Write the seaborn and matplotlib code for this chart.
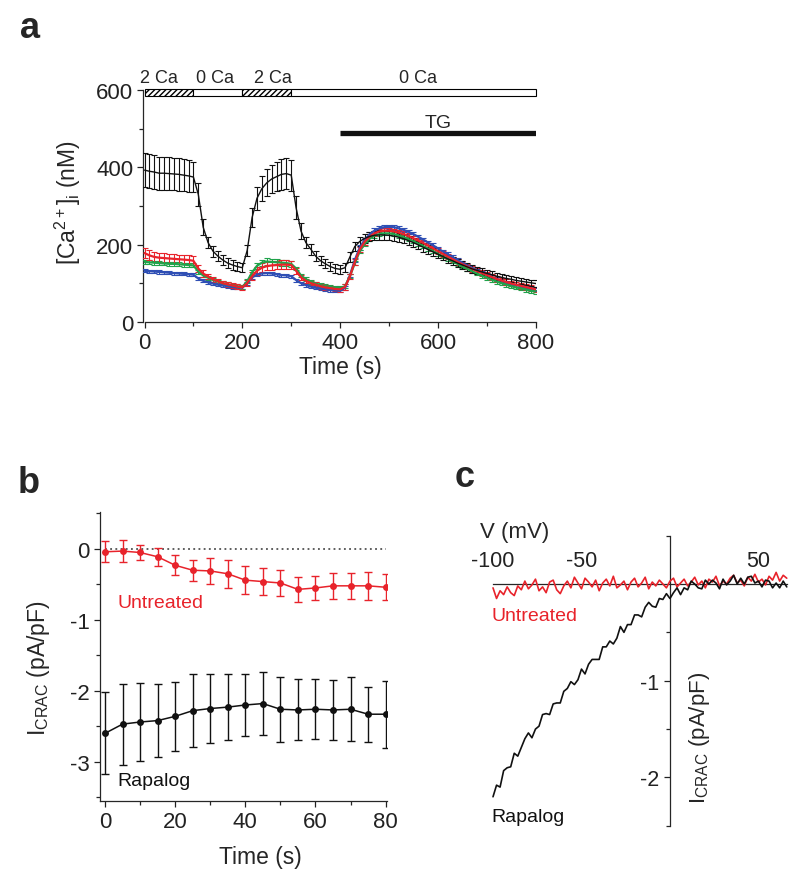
import numpy as np
import pandas as pd
import matplotlib
matplotlib.use("Agg")
import matplotlib.pyplot as plt
from matplotlib.ticker import FixedLocator
import seaborn as sns

# ---------------- DATA ----------------
# Panel a: [Ca2+]i (nM) vs time (s), sampled every 10 s
time_a = list(range(0, 801, 10))
black_mean = [393, 390, 388, 385, 385, 384, 383, 382, 380, 378, 375,
              330, 245, 205, 183, 170, 160, 152, 147, 143, 140,
              185, 270, 320, 345, 360, 370, 376, 382, 384, 380,
              295, 235, 205, 188, 170, 158, 150, 143, 138, 136,
              140, 168, 195, 208, 216, 221, 224, 225, 225, 224,
              222, 219, 215, 210, 205, 199, 193, 187, 181, 175,
              169, 163, 158, 152, 147, 142, 137, 133, 129, 125,
              122, 118, 115, 112, 110, 107, 105, 103, 101, 99]
black_err = [45, 44, 44, 43, 43, 43, 42, 42, 42, 41, 40,
             30, 20, 15, 14, 13, 12, 12, 12, 12, 12,
             15, 25, 30, 33, 35, 37, 38, 40, 40, 40,
             30, 20, 15, 14, 13, 12, 12, 12, 12, 12,
             12, 12, 12, 12, 12, 12, 12, 12, 12, 12,
             12, 12, 12, 12, 11, 11, 11, 11, 11, 11,
             10, 10, 10, 10, 10, 10, 10, 9, 9, 9,
             9, 9, 9, 8, 8, 8, 8, 8, 8, 8]
blue_mean = [132, 131, 130, 129, 128, 127, 126, 125, 124, 123, 122,
             112, 106, 102, 99, 96, 94, 92, 90, 89, 88,
             100, 115, 122, 125, 126, 125, 123, 121, 120, 118,
             108, 100, 95, 91, 88, 86, 84, 82, 81, 80,
             88, 120, 160, 192, 212, 226, 236, 242, 245, 246,
             245, 242, 238, 233, 227, 220, 213, 205, 198, 190,
             182, 175, 167, 160, 153, 146, 140, 133, 127, 122,
             116, 111, 106, 102, 98, 95, 92, 89, 86, 83]
blue_err = [4] * 41 + [5, 5, 6, 6, 6, 6, 6, 6, 6, 6,
                      6, 6, 6, 6, 6, 5, 5, 5, 5, 5,
                      5, 5, 5, 5, 4, 4, 4, 4, 4, 4,
                      4, 4, 4, 4, 4, 4, 4, 4, 4, 4]
green_mean = [155, 154, 153, 152, 151, 150, 150, 149, 148, 147, 146,
              130, 120, 114, 108, 104, 100, 97, 94, 92, 90,
              105, 128, 145, 153, 156, 155, 154, 153, 152, 150,
              138, 120, 110, 104, 99, 95, 92, 90, 88, 87,
              92, 118, 152, 182, 202, 215, 223, 227, 229, 229,
              227, 223, 219, 214, 208, 202, 196, 189, 183, 176,
              169, 163, 156, 150, 143, 137, 131, 125, 119, 114,
              109, 104, 100, 96, 92, 89, 86, 83, 80, 78]
green_err = [5] * 22 + [7, 8, 8, 8, 8, 8, 8, 8, 8] + [5] * 50
red_mean = [178, 172, 168, 166, 165, 164, 163, 162, 161, 160, 158,
            138, 125, 117, 110, 105, 100, 97, 94, 91, 89,
            100, 118, 132, 140, 144, 146, 147, 148, 148, 147,
            132, 115, 106, 100, 96, 92, 89, 87, 85, 84,
            90, 118, 155, 187, 207, 220, 229, 234, 236, 236,
            234, 231, 227, 222, 216, 210, 204, 197, 190, 183,
            176, 169, 162, 155, 149, 143, 137, 131, 126, 121,
            116, 111, 107, 103, 99, 96, 93, 90, 87, 84]
red_err = [13, 13, 12, 12, 12, 12, 12, 12, 12, 12, 12,
           9, 8, 7, 7, 6, 6, 6, 6, 6, 6,
           8, 10, 11, 11, 11, 11, 11, 11, 11, 11,
           8, 7, 6, 6, 6, 6, 6, 6, 6, 6] + [7] * 40

solution_start = [0, 100, 200, 300]
solution_end = [100, 200, 300, 800]
solution_label = ["2 Ca", "0 Ca", "2 Ca", "0 Ca"]
solution_hatched = [True, False, True, False]
tg_start, tg_end = 400, 800

# Panel b: I_CRAC (pA/pF) vs time (s)
time_b = [0, 5, 10, 15, 20, 25, 30, 35, 40, 45, 50, 55, 60, 65, 70, 75, 80]
untreated_mean = [-0.04, -0.03, -0.05, -0.11, -0.23, -0.30, -0.31, -0.35, -0.44,
                  -0.46, -0.48, -0.57, -0.55, -0.52, -0.52, -0.52, -0.54]
untreated_err = [0.15, 0.15, 0.11, 0.13, 0.14, 0.15, 0.18, 0.20, 0.20,
                 0.19, 0.19, 0.18, 0.17, 0.18, 0.18, 0.20, 0.18]
rapalog_mean = [-2.60, -2.47, -2.44, -2.42, -2.36, -2.28, -2.25, -2.23, -2.20,
                -2.18, -2.26, -2.27, -2.26, -2.27, -2.26, -2.33, -2.33]
rapalog_err = [0.58, 0.57, 0.55, 0.51, 0.49, 0.51, 0.49, 0.47, 0.44,
               0.44, 0.46, 0.43, 0.42, 0.42, 0.45, 0.39, 0.47]

# Panel c: I-V relation, V (mV) from -100 to 66 in 2 mV steps
voltage = list(range(-100, 67, 2))
untreated_iv = [-0.04, -0.15, -0.07, -0.11, -0.03, -0.09, -0.12, -0.02, -0.06, 0.03,
                -0.05, -0.01, 0.05, -0.07, -0.03, -0.09, 0.02, 0.04, -0.06, -0.10,
                -0.02, 0.03, -0.04, 0.07, 0.01, -0.05, 0.06, 0.02, -0.03, 0.04,
                -0.07, 0.01, 0.05, -0.02, 0.08, -0.04, -0.01, 0.03, -0.06, 0.02,
                0.06, -0.03, 0.01, 0.07, -0.05, 0.02, -0.02, 0.04, 0.00, -0.04,
                0.03, 0.06, -0.03, 0.01, 0.05, -0.02, 0.02, 0.07, -0.01, 0.03,
                -0.04, 0.05, 0.02, 0.08, -0.02, 0.03, 0.00, 0.06, 0.09, 0.01,
                0.04, -0.02, 0.07, 0.03, 0.10, 0.02, 0.05, -0.01, 0.08, 0.04,
                0.12, 0.03, 0.09, 0.06]
rapalog_iv = [-2.20, -2.08, -2.10, -1.93, -1.90, -1.89, -1.75, -1.78, -1.69, -1.60,
              -1.54, -1.59, -1.50, -1.47, -1.35, -1.34, -1.35, -1.24, -1.23, -1.23,
              -1.11, -1.08, -1.01, -1.04, -0.99, -0.88, -0.93, -0.83, -0.78, -0.78,
              -0.78, -0.65, -0.65, -0.59, -0.62, -0.56, -0.44, -0.50, -0.42, -0.42,
              -0.32, -0.32, -0.34, -0.24, -0.19, -0.23, -0.24, -0.15, -0.16, -0.10,
              -0.15, -0.09, -0.04, -0.11, -0.04, -0.06, 0.03, 0.00, -0.04, -0.05,
              0.04, 0.00, 0.04, 0.01, -0.05, 0.05, -0.01, 0.03, 0.09, 0.00,
              0.06, 0.00, 0.07, 0.08, 0.01, 0.03, -0.03, 0.04, 0.03, -0.04,
              0.01, -0.04, 0.03, -0.03]

# ---------------- STYLE ----------------
sns.set_style("ticks")
plt.rcParams["font.family"] = ["Liberation Sans", "DejaVu Sans"]
plt.rcParams["axes.unicode_minus"] = False
plt.rcParams["axes.linewidth"] = 0.9
plt.rcParams["mathtext.fontset"] = "custom"
plt.rcParams["mathtext.rm"] = "Liberation Sans"
plt.rcParams["mathtext.it"] = "Liberation Sans"

RED = "#e8232b"
BLUE = "#2f4fb4"
GREEN = "#1fa34a"
BLACK = "#111111"

fig = plt.figure(figsize=(8.0, 8.79), dpi=100)

def style_ticks(ax, fs, pad=3):
    ax.tick_params(axis="both", which="major", direction="out", length=4.5,
                   width=0.9, labelsize=fs, pad=pad, colors="#222222")
    ax.tick_params(axis="both", which="minor", direction="out", length=3.2,
                   width=0.9)

# ---------------- PANEL A ----------------
axa = fig.add_axes([0.1788, 0.6324, 0.4915, 0.2651])
df_a = pd.DataFrame({"t": time_a, "black": black_mean, "blue": blue_mean,
                     "green": green_mean, "red": red_mean})
for name, mean, err, col in [("blue", blue_mean, blue_err, BLUE),
                             ("green", green_mean, green_err, GREEN),
                             ("red", red_mean, red_err, RED),
                             ("black", black_mean, black_err, BLACK)]:
    axa.errorbar(time_a, mean, yerr=err, fmt="none", ecolor=col,
                 elinewidth=0.8, capsize=2.4, capthick=0.8, zorder=3)
    sns.lineplot(data=df_a, x="t", y=name, ax=axa, color=col,
                 lw=1.6 if name != "black" else 1.0, zorder=4)

axa.set_xlim(-3, 801)
axa.set_ylim(-1, 603)
axa.xaxis.set_major_locator(FixedLocator([0, 200, 400, 600, 800]))
axa.xaxis.set_minor_locator(FixedLocator([100, 300, 500, 700]))
axa.yaxis.set_major_locator(FixedLocator([0, 200, 400, 600]))
axa.yaxis.set_minor_locator(FixedLocator([100, 300, 500]))
style_ticks(axa, 16, pad=2.5)
sns.despine(ax=axa)
axa.spines["left"].set_bounds(0, 600)
axa.spines["bottom"].set_bounds(0, 800)

# solution bar
widths = [e - s for s, e in zip(solution_start, solution_end)]
bars = axa.bar(solution_start, [18] * 4, width=widths, bottom=584,
               align="edge", color="white", edgecolor="black", linewidth=0.8,
               clip_on=False, zorder=5)
for b, h in zip(bars, solution_hatched):
    if h:
        b.set_hatch("//////")
label_x = [30, 145, 262, 560]
for lx, lab in zip(label_x, solution_label):
    axa.text(lx, 622, lab, ha="center", va="baseline", fontsize=13,
             clip_on=False)
axa.hlines(490, tg_start, tg_end, color=BLACK, lw=3.8)
axa.text((tg_start + tg_end) / 2, 506, "TG", ha="center",
         va="baseline", fontsize=14)

axa.set_xlabel("Time (s)", fontsize=16.5)
axa.xaxis.label.set_verticalalignment("center")
axa.xaxis.set_label_coords(0.501, -0.19)
axa.set_ylabel(r"[Ca$^{2+}$]$_{\mathrm{i}}$ (nM)", fontsize=16.5)
axa.yaxis.label.set_verticalalignment("center")
axa.yaxis.set_label_coords(-0.19, 0.515)

# ---------------- PANEL B ----------------
axb = fig.add_axes([0.125, 0.0879, 0.3584, 0.3284])
df_b = pd.DataFrame({"t": time_b, "untreated": untreated_mean,
                     "rapalog": rapalog_mean})
axb.hlines(0, 0, 80, colors="#333333", linestyles=(0, (1.2, 2.2)), lw=1.1)
for name, mean, err, col in [("untreated", untreated_mean, untreated_err, RED),
                             ("rapalog", rapalog_mean, rapalog_err, BLACK)]:
    axb.errorbar(time_b, mean, yerr=err, fmt="none", ecolor=col,
                 elinewidth=1.0, capsize=2.8, capthick=1.0, zorder=3)
    sns.lineplot(data=df_b, x="t", y=name, ax=axb, color=col, lw=1.1,
                 marker="o", markersize=5, markeredgewidth=0, zorder=4)
axb.set_xlim(-1.42, 80.3)
axb.set_ylim(-3.55, 0.52)
axb.xaxis.set_major_locator(FixedLocator([0, 20, 40, 60, 80]))
axb.xaxis.set_minor_locator(FixedLocator([10, 30, 50, 70]))
axb.yaxis.set_major_locator(FixedLocator([-3, -2, -1, 0]))
axb.yaxis.set_minor_locator(FixedLocator([-3.5, -2.5, -1.5, -0.5, 0.5]))
style_ticks(axb, 16)
sns.despine(ax=axb)
axb.text(3.7, -0.75, "Untreated", color=RED, fontsize=14, va="center")
axb.text(3.4, -3.27, "Rapalog", color=BLACK, fontsize=14, va="center")
axb.set_xlabel("Time (s)", fontsize=16.5)
axb.xaxis.label.set_verticalalignment("center")
axb.xaxis.set_label_coords(0.558, -0.1915)
axb.set_ylabel(r"I$_{\mathrm{CRAC}}$ (pA/pF)", fontsize=16.5)
axb.yaxis.label.set_verticalalignment("center")
axb.yaxis.set_label_coords(-0.2145, 0.463)

# ---------------- PANEL C ----------------
axc = fig.add_axes([0.6052, 0.0539, 0.3915, 0.3411])
df_c = pd.DataFrame({"V": voltage, "untreated": untreated_iv,
                     "rapalog": rapalog_iv})
sns.lineplot(data=df_c, x="V", y="untreated", ax=axc, color=RED, lw=1.2,
             zorder=4)
sns.lineplot(data=df_c, x="V", y="rapalog", ax=axc, color=BLACK, lw=1.2,
             zorder=5)
axc.set_xlim(-105, 72)
axc.set_ylim(-2.55, 0.55)
axc.spines["right"].set_visible(False)
axc.spines["bottom"].set_visible(False)
axc.spines["top"].set_position(("data", 0))
axc.spines["top"].set_bounds(-100, 66)
axc.spines["left"].set_position(("data", 0))
axc.spines["left"].set_bounds(-2.5, 0.5)
axc.xaxis.set_ticks_position("top")
axc.xaxis.set_major_locator(FixedLocator([-100, -50, 50]))
axc.tick_params(axis="x", length=0, pad=9, labelsize=15.5, colors="#222222")
axc.yaxis.set_major_locator(FixedLocator([-2, -1]))
axc.yaxis.set_minor_locator(FixedLocator([-2.5, -1.5, -0.5, 0.5]))
axc.tick_params(axis="y", which="major", direction="out", length=4.5,
                width=0.9, labelsize=15.5, pad=3, colors="#222222")
axc.tick_params(axis="y", which="minor", direction="out", length=3.2,
                width=0.9)
axc.set_xlabel("")
axc.set_ylabel("")
axc.text(-88, 0.54, "V (mV)", ha="center", va="center", fontsize=16)
axc.text(-101, -0.33, "Untreated", color=RED, fontsize=14, va="center")
axc.text(-101, -2.40, "Rapalog", color=BLACK, fontsize=14, va="center")
axc.text(0.688, 0.312, r"I$_{\mathrm{CRAC}}$ (pA/pF)", transform=axc.transAxes,
         rotation=90, ha="center", va="center", fontsize=16)

# ---------------- PANEL LABELS ----------------
fig.text(20 / 800, 1 - 38 / 879, "a", fontsize=26, fontweight="bold",
         va="baseline")
fig.text(18 / 800, 1 - 493 / 879, "b", fontsize=26, fontweight="bold",
         va="baseline")
fig.text(455 / 800, 1 - 487 / 879, "c", fontsize=26, fontweight="bold",
         va="baseline")

fig.savefig("out.png", dpi=100)
